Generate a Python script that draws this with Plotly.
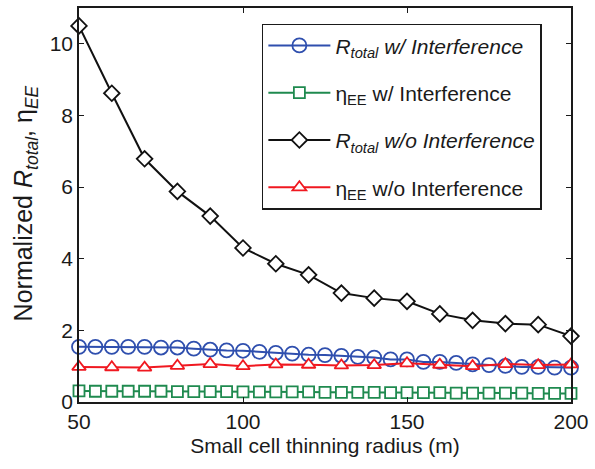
import plotly.graph_objects as go

x_fine = [50, 55, 60, 65, 70, 75, 80, 85, 90, 95, 100, 105, 110, 115, 120, 125,
          130, 135, 140, 145, 150, 155, 160, 165, 170, 175, 180, 185, 190, 195, 200]
x_coarse = [50, 60, 70, 80, 90, 100, 110, 120, 130, 140, 150, 160, 170, 180, 190, 200]

r_total_w = [1.54, 1.54, 1.54, 1.54, 1.54, 1.52, 1.52, 1.49, 1.46, 1.44, 1.43, 1.40,
             1.37, 1.35, 1.32, 1.31, 1.29, 1.26, 1.24, 1.19, 1.19, 1.12, 1.12, 1.09,
             1.05, 1.03, 1.01, 0.98, 0.98, 0.96, 0.96]
ee_w = [0.31, 0.30, 0.30, 0.30, 0.30, 0.30, 0.29, 0.29, 0.29, 0.29, 0.28, 0.28,
        0.28, 0.28, 0.28, 0.27, 0.27, 0.27, 0.27, 0.26, 0.26, 0.26, 0.26, 0.25,
        0.25, 0.25, 0.25, 0.25, 0.24, 0.24, 0.24]
r_total_wo = [10.5, 8.62, 6.79, 5.88, 5.19, 4.30, 3.86, 3.55, 3.04, 2.90, 2.81,
              2.46, 2.28, 2.19, 2.16, 1.84]
ee_wo = [0.98, 0.97, 0.96, 1.01, 1.06, 1.00, 1.05, 1.04, 1.02, 1.03, 1.08, 1.04,
         1.00, 1.06, 1.03, 1.05]

names = ["<i>R</i><sub><i>total</i></sub> <i>w/ Interference</i>",
         "η<sub>EE</sub> w/ Interference",
         "<i>R</i><sub><i>total</i></sub> <i>w/o Interference</i>",
         "η<sub>EE</sub> w/o Interference"]
x_ticks = [50, 100, 150, 200]
y_ticks = [0, 2, 4, 6, 8, 10]
x_title = "Small cell thinning radius (m)"
y_title = "Normalized <i>R</i><sub><i>total</i></sub>, η<sub><i>EE</i></sub>"

BLUE = "#2f4fae"
GREEN = "#1f8a4f"
BLACK = "#111111"
RED = "#f01820"
TXT = "#1a1a1a"

fig = go.Figure()
fig.add_trace(go.Scatter(x=x_fine, y=r_total_w, name=names[0], legendgroup="a",
                         mode="lines+markers", cliponaxis=False,
                         line=dict(color=BLUE, width=2),
                         marker=dict(symbol="circle", size=14, color="rgba(255,255,255,0)",
                                     line=dict(color=BLUE, width=1.8))))
fig.add_trace(go.Scatter(x=x_fine, y=ee_w, name=names[1], legendgroup="b",
                         mode="lines+markers", cliponaxis=False,
                         line=dict(color=GREEN, width=2),
                         marker=dict(symbol="square", size=11, color="white",
                                     line=dict(color=GREEN, width=1.8))))
fig.add_trace(go.Scatter(x=x_coarse, y=r_total_wo, name=names[2], legendgroup="c",
                         mode="lines+markers", cliponaxis=False,
                         line=dict(color=BLACK, width=2),
                         marker=dict(symbol="diamond", size=12, color="white",
                                     line=dict(color=BLACK, width=1.8))))
fig.add_trace(go.Scatter(x=x_coarse, y=ee_wo, name=names[3], legendgroup="d",
                         mode="lines+markers", cliponaxis=False,
                         line=dict(color=RED, width=2),
                         marker=dict(symbol="triangle-up", size=12, color="white",
                                     line=dict(color=RED, width=1.8))))

FONT = "Liberation Sans, Arial, sans-serif"
fig.update_layout(
    width=595, height=469,
    margin=dict(l=79, r=21, t=6, b=67),
    paper_bgcolor="white", plot_bgcolor="white",
    font=dict(family=FONT, size=21, color=TXT),
    showlegend=True,
    legend=dict(x=0.3717, y=0.96, xanchor="left", yanchor="top",
                bgcolor="white", bordercolor=TXT, borderwidth=1.5,
                font=dict(family=FONT, size=21, color=TXT),
                itemwidth=62, tracegroupgap=17),
    xaxis=dict(range=[50, 200], tickvals=x_ticks, ticks="inside", ticklen=5,
               tickcolor=TXT, showline=True, linecolor=TXT, linewidth=1.5,
               mirror="ticks", showgrid=False, zeroline=False,
               tickfont=dict(size=21),
               title=dict(text=x_title, font=dict(size=21), standoff=6)),
    yaxis=dict(range=[0, 11], tickvals=y_ticks, ticks="inside", ticklen=5,
               tickcolor=TXT, showline=True, linecolor=TXT, linewidth=1.5,
               mirror="ticks", showgrid=False, zeroline=False,
               tickfont=dict(size=21)),
    annotations=[dict(text=y_title, textangle=-90, xref="paper", yref="paper",
                      x=-0.109, y=0.505, xanchor="center", yanchor="middle",
                      showarrow=False, font=dict(family=FONT, size=25, color=TXT))],
)
fig.write_html("out.html")
